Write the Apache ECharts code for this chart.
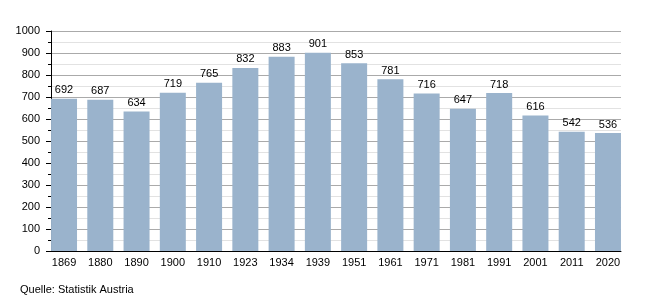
<!DOCTYPE html>
<html><head><meta charset="utf-8">
<script src="https://cdn.jsdelivr.net/npm/echarts@6/dist/echarts.min.js"></script>
<style>html,body{margin:0;padding:0;background:#fff}#c{width:650px;height:300px}</style>
</head><body><div id="c"></div>
<script>
const years = ['1869','1880','1890','1900','1910','1923','1934','1939','1951','1961','1971','1981','1991','2001','2011','2020'];
const population = [692,687,634,719,765,832,883,901,853,781,716,647,718,616,542,536];
const yTicks = [0,100,200,300,400,500,600,700,800,900,1000];
const source = 'Quelle: Statistik Austria';

const FONT = 'Liberation Sans, Arial, sans-serif';
const chart = echarts.init(document.getElementById('c'), null, {renderer:'canvas'});
chart.setOption({
  animation:false,
  textStyle:{fontFamily:FONT},
  grid:[
    {left:51,right:29,top:31,bottom:49},
    {left:45.9,right:23.9,top:31,bottom:49}
  ],
  graphic:[{type:'text',left:20,top:284,style:{text:source,fontSize:11,fill:'#000',fontFamily:FONT}}],
  xAxis:[
    {type:'value',gridIndex:0,min:0,max:1,
      axisLine:{show:true,lineStyle:{color:'#000',width:1}},
      axisTick:{show:false},axisLabel:{show:false},splitLine:{show:false}},
    {type:'category',gridIndex:1,data:years,
      axisLine:{show:false},axisTick:{show:false},
      axisLabel:{color:'#000',fontSize:11,margin:6}}
  ],
  yAxis:[
    {type:'value',gridIndex:0,min:yTicks[0],max:yTicks[yTicks.length-1],interval:100,
      axisLine:{show:true,lineStyle:{color:'#000'}},
      axisTick:{show:true,length:5,lineStyle:{color:'#000'}},
      minorTick:{show:true,splitNumber:2,length:3,lineStyle:{color:'#000'}},
      axisLabel:{color:'#000',fontSize:11,margin:11,formatter:v=>String(v)},
      splitLine:{lineStyle:{color:'#aaa',width:1}},
      minorSplitLine:{show:true,lineStyle:{color:'#e2e2e2',width:1}}},
    {type:'value',gridIndex:1,min:yTicks[0],max:yTicks[yTicks.length-1],show:false,
      splitLine:{show:false}}
  ],
  series:[{type:'bar',xAxisIndex:1,yAxisIndex:1,data:population,barWidth:26,
    itemStyle:{color:'#9ab3cc'},
    label:{show:true,position:'top',color:'#000',fontSize:11,distance:3}}]
});
</script></body></html>
